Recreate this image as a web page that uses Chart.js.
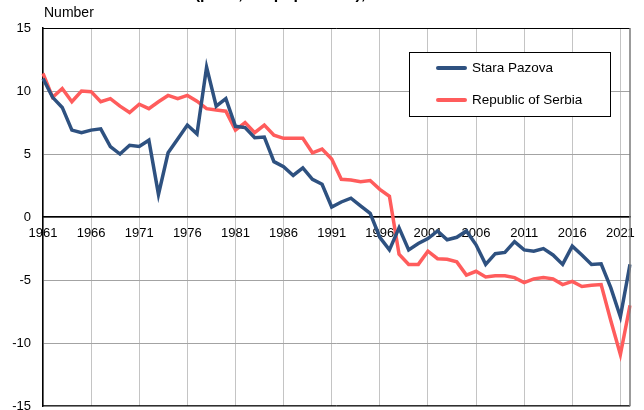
<!DOCTYPE html>
<html>
<head>
<meta charset="utf-8">
<script src="https://cdn.jsdelivr.net/npm/chart.js@4.4.1/dist/chart.umd.min.js"></script>
<style>
  html, body { margin: 0; padding: 0; overflow: hidden; background: #fff; }
  canvas { display: block; }
</style>
</head>
<body>
<canvas id="chart" width="644" height="426"></canvas>
<script>
const years = [
  '1961', '1962', '1963', '1964', '1965', '1966', '1967', '1968', '1969', '1970',
  '1971', '1972', '1973', '1974', '1975', '1976', '1977', '1978', '1979', '1980',
  '1981', '1982', '1983', '1984', '1985', '1986', '1987', '1988', '1989', '1990',
  '1991', '1992', '1993', '1994', '1995', '1996', '1997', '1998', '1999', '2000',
  '2001', '2002', '2003', '2004', '2005', '2006', '2007', '2008', '2009', '2010',
  '2011', '2012', '2013', '2014', '2015', '2016', '2017', '2018', '2019', '2020',
  '2021', '2022',
];

const staraPazova = [
  11.0, 9.5, 8.7, 6.9, 6.7, 6.9, 7.0, 5.6, 5.0, 5.7,
  5.6, 6.1, 1.8, 5.1, 6.2, 7.3, 6.6, 11.9, 8.8, 9.4,
  7.2, 7.1, 6.3, 6.35, 4.4, 4.0, 3.3, 3.9, 3.0, 2.6,
  0.8, 1.2, 1.5, 0.9, 0.3, -1.6, -2.6, -0.85, -2.6, -2.1,
  -1.7, -1.1, -1.8, -1.6, -1.1, -2.2, -3.75, -2.9, -2.8, -1.95,
  -2.6, -2.7, -2.5, -3.0, -3.75, -2.3, -3.0, -3.75, -3.7, -5.6,
  -7.9, -3.75,
];

const serbia = [
  11.4, 9.5, 10.2, 9.15, 10.0, 9.95, 9.15, 9.4, 8.8, 8.3,
  8.95, 8.6, 9.15, 9.65, 9.4, 9.65, 9.2, 8.6, 8.5, 8.4,
  6.9, 7.5, 6.7, 7.3, 6.5, 6.25, 6.25, 6.25, 5.1, 5.4,
  4.6, 3.0, 2.95, 2.8, 2.9, 2.2, 1.65, -2.95, -3.75, -3.75,
  -2.7, -3.3, -3.35, -3.55, -4.6, -4.3, -4.75, -4.65, -4.65, -4.8,
  -5.2, -4.9, -4.8, -4.9, -5.35, -5.1, -5.5, -5.4, -5.35, -8.2,
  -10.9, -7.0,
];

const seriesNames = ['Stara Pazova', 'Republic of Serbia'];
const titleText = 'Natural increase (per 1,000 population), 1961–2022';
const unitText = 'Number';

const FONT = '"Liberation Sans", Arial, sans-serif';
const BLUE = '#2e5180';
const RED = '#ff5c5c';

Chart.defaults.font.family = FONT;
Chart.defaults.color = '#000';

function everyFifth(index) {
  return index % 5 === 0;
}

const framePlugin = {
  id: 'frame',
  afterDraw(chart) {
    const { ctx, chartArea: a } = chart;
    ctx.save();
    ctx.lineWidth = 1;
    ctx.strokeStyle = '#000';
    ctx.beginPath();
    ctx.moveTo(a.left, a.top + 0.5);
    ctx.lineTo(a.right, a.top + 0.5);
    ctx.moveTo(a.left, a.bottom - 0.5);
    ctx.lineTo(a.right, a.bottom - 0.5);
    ctx.stroke();
    ctx.strokeStyle = '#7a7a7a';
    ctx.lineWidth = 1.5;
    ctx.beginPath();
    ctx.moveTo(a.right, a.top);
    ctx.lineTo(a.right, a.bottom);
    ctx.stroke();

    // texts above the plot
    ctx.fillStyle = '#000';
    ctx.textBaseline = 'alphabetic';
    ctx.textAlign = 'left';
    ctx.font = `14px ${FONT}`;
    ctx.fillText(unitText, 44, 17);

    ctx.font = `bold 16px ${FONT}`;
    const lead = ctx.measureText('Natural increase (').width;
    ctx.fillText(titleText, 200 - lead, -1);
    ctx.restore();
  },
};

const boxLegendPlugin = {
  id: 'boxLegend',
  afterDraw(chart) {
    const { ctx } = chart;
    const box = { x: 409.5, y: 52.5, w: 201, h: 64 };
    ctx.save();
    ctx.fillStyle = '#fff';
    ctx.fillRect(box.x, box.y, box.w, box.h);
    ctx.strokeStyle = '#000';
    ctx.lineWidth = 1;
    ctx.strokeRect(box.x, box.y, box.w, box.h);

    ctx.font = `13.5px ${FONT}`;
    ctx.textBaseline = 'middle';
    ctx.textAlign = 'left';
    chart.data.datasets.forEach((ds, i) => {
      const y = 68 + i * 32;
      ctx.strokeStyle = ds.borderColor;
      ctx.lineWidth = 4;
      ctx.lineCap = 'round';
      ctx.beginPath();
      ctx.moveTo(438, y);
      ctx.lineTo(465, y);
      ctx.stroke();
      ctx.fillStyle = '#000';
      ctx.fillText(ds.label, 472, y);
    });
    ctx.restore();
  },
};

new Chart(document.getElementById('chart'), {
  type: 'line',
  data: {
    labels: years,
    datasets: [
      {
        label: seriesNames[0],
        data: staraPazova,
        borderColor: BLUE,
        backgroundColor: BLUE,
        borderWidth: 3.5,
        pointRadius: 0,
        tension: 0,
      },
      {
        label: seriesNames[1],
        data: serbia,
        borderColor: RED,
        backgroundColor: RED,
        borderWidth: 3.5,
        pointRadius: 0,
        tension: 0,
      },
    ],
  },
  options: {
    responsive: false,
    animation: false,
    events: [],
    layout: { padding: { top: 28, right: 14, bottom: 1, left: 0 } },
    plugins: {
      legend: { display: false },
      title: { display: false },
      tooltip: { enabled: false },
    },
    scales: {
      x: {
        type: 'category',
        offset: false,
        position: { y: 0 },
        grid: {
          drawTicks: false,
          lineWidth: 1,
          color: (ctx) => (everyFifth(ctx.index) ? '#c4c4c4' : 'rgba(0,0,0,0)'),
        },
        border: { color: '#000', width: 1.5 },
        ticks: { display: false, autoSkip: false },
      },
      xLabels: {
        type: 'category',
        offset: false,
        position: { y: 0 },
        z: 1,
        grid: { display: false, drawTicks: false },
        border: { display: false },
        ticks: {
          autoSkip: false,
          maxRotation: 0,
          padding: 9,
          font: { size: 13 },
          color: '#000',
          callback(value, index) {
            return everyFifth(index) ? this.getLabelForValue(value) : '';
          },
        },
      },
      y: {
        min: -15,
        max: 15,
        grid: { color: '#a3a3a3', drawTicks: false, lineWidth: 1 },
        border: { color: '#000', width: 1.5 },
        ticks: { stepSize: 5, padding: 12, font: { size: 13 }, color: '#000' },
        afterFit(scale) {
          scale.width = 43;
        },
      },
    },
  },
  plugins: [framePlugin, boxLegendPlugin],
});
</script>
</body>
</html>
